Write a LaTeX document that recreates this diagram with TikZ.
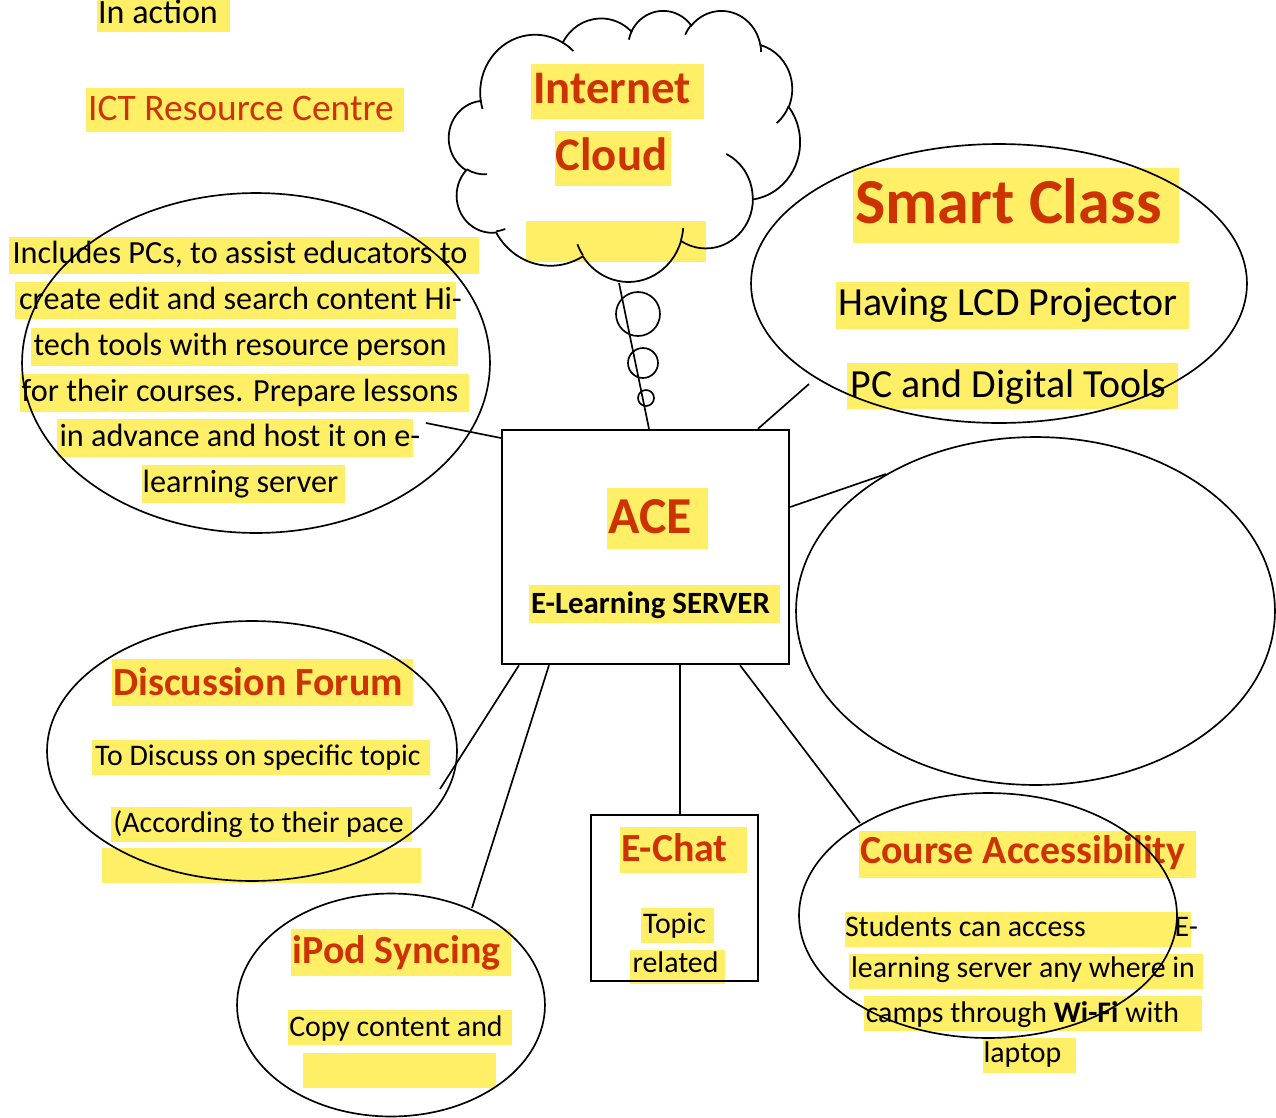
\documentclass[tikz,border=0pt]{standalone}
\usepackage{fontspec}
\setmainfont{Carlito}
\usetikzlibrary{shapes.geometric}
\definecolor{hl}{RGB}{255,239,102}
\definecolor{redt}{RGB}{204,51,0}
\def\CX{449}\def\CY{10}\def\CW{351}\def\CH{271}
\newcommand\cloudarc[5]{%
  \pgfmathsetmacro\crx{#2/432*\CW}%
  \pgfmathsetmacro\cry{#3/432*\CH}%
  \pgfmathsetmacro\cts{atan2(#2*sin(#4),#3*cos(#4))}%
  \pgfmathsetmacro\cte{atan2(#2*sin(#4+#5),#3*cos(#4+#5))}%
  \pgfmathsetmacro\cd{mod(\cte-\cts+720,360)}%
  \expandafter\let\csname crx#1\endcsname\crx
  \expandafter\let\csname cry#1\endcsname\cry
  \expandafter\let\csname cts#1\endcsname\cts
  \expandafter\let\csname cd#1\endcsname\cd}
\newcommand\cloudhook[6]{%
  \cloudarc{Z}{#3}{#4}{#5}{#6}%
  \draw[cloudline] ({\CX+#1/432*\CW},{\CY+#2/432*\CH})
    arc[start angle=\ctsZ, delta angle=\cdZ, x radius=\crxZ, y radius=\cryZ];}
\begin{document}
\begin{tikzpicture}[x=0.02cm,y=-0.02cm,
  cloudline/.style={draw=black, line width=1pt},
  oval/.style={ellipse, draw=black, line width=0.95pt, inner sep=0pt},
  conn/.style={draw=black, line width=0.95pt},
  bubble/.style={circle, draw=black, line width=0.95pt, inner sep=0pt},
  txt/.style={anchor=base, inner sep=0pt, text=black},
  rtxt/.style={anchor=base, inner sep=0pt, text=redt},
  fIn/.style={font=\fontsize{19.4pt}{23pt}\selectfont},
  fICT/.style={font=\fontsize{21.3pt}{25pt}\selectfont},
  fCloud/.style={font=\fontsize{26.6pt}{31pt}\selectfont\bfseries},
  fLeft/.style={font=\fontsize{18.35pt}{22pt}\selectfont},
  fSmartT/.style={font=\fontsize{36.5pt}{42pt}\selectfont\bfseries},
  fSmartB/.style={font=\fontsize{22.7pt}{27pt}\selectfont},
  fACE/.style={font=\fontsize{29.5pt}{35pt}\selectfont\bfseries},
  fServer/.style={font=\fontsize{17.6pt}{21pt}\selectfont\bfseries},
  fTitle/.style={font=\fontsize{22.7pt}{27pt}\selectfont\bfseries},
  fBody/.style={font=\fontsize{17pt}{20pt}\selectfont}]
\useasboundingbox (0,0) rectangle (1276,1117);

% ---------- highlights ----------
\fill[hl] (97,0) rectangle (230,32);
\fill[hl] (86,88) rectangle (404,132);
\fill[hl] (531,64) rectangle (704,119);
\fill[hl] (555,131) rectangle (671,186);
\fill[hl] (526,221) rectangle (706,262);
\fill[hl] (9,237) rectangle (479,274);
\fill[hl] (15,282) rectangle (456,319);
\fill[hl] (31,328) rectangle (458,366);
\fill[hl] (20,374) rectangle (469,412);
\fill[hl] (57,419) rectangle (413,457);
\fill[hl] (142,465) rectangle (345,503);
\fill[hl] (853,168) rectangle (1179,243);
\fill[hl] (836,282) rectangle (1189,329);
\fill[hl] (847,363) rectangle (1178,409);
\fill[hl] (607,488) rectangle (708,549);
\fill[hl] (529,585) rectangle (780,623);
\fill[hl] (112,659) rectangle (413,706);
\fill[hl] (92,740) rectangle (430,775);
\fill[hl] (111,807) rectangle (412,842);
\fill[hl] (102,848) rectangle (421,883);
\fill[hl] (291,929) rectangle (511,976);
\fill[hl] (288,1010) rectangle (512,1045);
\fill[hl] (303,1053) rectangle (496,1088);
\fill[hl] (620,827) rectangle (747,873);
\fill[hl] (641,908) rectangle (714,943);
\fill[hl] (630,950) rectangle (725,984);
\fill[hl] (859,831) rectangle (1196,878);
\fill[hl] (845,912) rectangle (1191,947);
\fill[hl] (849,954) rectangle (1203,989);
\fill[hl] (864,996) rectangle (1202,1031);
\fill[hl] (983,1038) rectangle (1076,1073);

% ---------- texts ----------
\node[txt, fIn] (inaction) at (158,23) {In action};
\node[rtxt, fICT] (ict) at (241,120) {ICT Resource Centre};
\node[rtxt, fCloud] (internet) at (612,103) {Internet};
\node[rtxt, fCloud] (cloudt) at (611.5,170) {Cloud};

\node[txt, fLeft] (l1) at (240,263) {Includes PCs, to assist educators to};
\node[txt, fLeft] (l2) at (240.5,309) {create edit and search content Hi-};
\node[txt, fLeft] (l3) at (240,355) {tech tools with resource person};
\node[txt, fLeft] (l4) at (240,401) {for their courses. Prepare lessons};
\node[txt, fLeft] (l5) at (240,446.5) {in advance and host it on e-};
\node[txt, fLeft] (l6) at (240.5,492) {learning server};

\node[rtxt, fSmartT] (smartt) at (1008.5,223) {Smart Class};
\node[txt, fSmartB] (smart1) at (1008,315) {Having LCD Projector};
\node[txt, fSmartB] (smart2) at (1008.5,397) {PC and Digital Tools};

\node[rtxt, fACE] (acet) at (650,533) {ACE};
\node[txt, fServer] (server) at (650.5,613) {E-Learning SERVER};

\node[rtxt, fTitle] (disct) at (258,695) {Discussion Forum};
\node[txt, fBody] (disc1) at (258,765) {To Discuss on specific topic};
\node[txt, fBody] (disc2) at (258.5,832) {(According to their pace};

\node[rtxt, fTitle] (ipodt) at (396.5,963) {iPod Syncing};
\node[txt, fBody] (ipod1) at (396,1036) {Copy content and};

\node[rtxt, fTitle] (chatt) at (674.5,861) {E-Chat};
\node[txt, fBody] (chat1) at (674.5,933) {Topic};
\begin{scope}
\clip (591,940) rectangle (758,974);
\node[txt, fBody] (chat2) at (675.5,972) {related};
\end{scope}

\node[rtxt, fTitle] (courset) at (1023,863) {Course Accessibility};
\node[txt, fBody] (course1) at (1021.5,936) {\makebox[7.06cm]{Students can access\hfill E-}};
\node[txt, fBody] (course2) at (1023,977) {learning server any where in};
\node[txt, fBody] (course3) at (1022.5,1022) {camps through \textbf{Wi-Fi} with};
\node[txt, fBody] (course4) at (1022.5,1062) {laptop};

% ---------- shapes ----------
\node[oval, minimum width=9.36cm, minimum height=6.8cm] (ictoval) at (256,363) {};
\node[oval, minimum width=9.92cm, minimum height=5.58cm] (smart) at (999,283.5) {};
\node[oval, minimum width=9.58cm, minimum height=6.96cm] (blank) at (1035.5,611) {};
\node[oval, minimum width=8.2cm, minimum height=5.2cm] (disc) at (252,751) {};
\node[oval, minimum width=6.16cm, minimum height=4.46cm] (ipod) at (391,1005) {};
\node[oval, minimum width=7.56cm, minimum height=4.9cm] (course) at (988,915.5) {};
\node[draw=black, line width=1.4pt, minimum width=5.74cm, minimum height=4.68cm, inner sep=0pt] (ace) at (645.5,547) {};
\node[draw=black, line width=1.1pt, minimum width=3.34cm, minimum height=3.32cm, inner sep=0pt] (echat) at (674.5,898) {};

% ---------- cloud ----------
\cloudarc{A}{67.53}{91.90}{-190.487}{123.781}
\cloudarc{B}{53.33}{72.67}{-144.102}{89.945}
\cloudarc{C}{43.65}{59.45}{-145.808}{99.723}
\cloudarc{D}{48.57}{65.95}{-130.986}{117.242}
\cloudarc{E}{53.33}{72.73}{-78.709}{109.027}
\cloudarc{F}{67.75}{92.20}{-46.267}{130.269}
\cloudarc{G}{57.85}{78.67}{0.625}{114.033}
\cloudarc{H}{67.52}{92.15}{22.452}{115.173}
\cloudarc{I}{77.20}{105.43}{66.243}{75.711}
\cloudarc{J}{43.60}{59.18}{-274.942}{146.736}
\cloudarc{K}{43.45}{59.45}{-246.829}{152.519}
\draw[cloudline] ({\CX+39.00/432*\CW},{\CY+143.70/432*\CH})
  arc[start angle=\ctsA, delta angle=\cdA, x radius=\crxA, y radius=\cryA]
  arc[start angle=\ctsB, delta angle=\cdB, x radius=\crxB, y radius=\cryB]
  arc[start angle=\ctsC, delta angle=\cdC, x radius=\crxC, y radius=\cryC]
  arc[start angle=\ctsD, delta angle=\cdD, x radius=\crxD, y radius=\cryD]
  arc[start angle=\ctsE, delta angle=\cdE, x radius=\crxE, y radius=\cryE]
  arc[start angle=\ctsF, delta angle=\cdF, x radius=\crxF, y radius=\cryF]
  arc[start angle=\ctsG, delta angle=\cdG, x radius=\crxG, y radius=\cryG]
  arc[start angle=\ctsH, delta angle=\cdH, x radius=\crxH, y radius=\cryH]
  arc[start angle=\ctsI, delta angle=\cdI, x radius=\crxI, y radius=\cryI]
  arc[start angle=\ctsJ, delta angle=\cdJ, x radius=\crxJ, y radius=\cryJ]
  arc[start angle=\ctsK, delta angle=\cdK, x radius=\crxK, y radius=\cryK]
  -- cycle;
\cloudhook{46.93}{261.77}{43.45}{59.45}{86.742}{26.430}
\cloudhook{69.28}{348.99}{43.60}{59.18}{73.610}{11.447}
\cloudhook{164.78}{390.90}{67.52}{92.15}{137.624}{14.081}
\cloudhook{288.27}{347.51}{67.52}{92.15}{6.453}{15.998}
\cloudhook{341.29}{229.54}{57.85}{78.67}{-70.292}{70.917}
\cloudhook{417.98}{153.54}{53.33}{72.73}{30.318}{27.752}
\cloudhook{383.24}{54.26}{48.57}{65.95}{-13.744}{14.859}
\cloudhook{290.78}{39.52}{48.57}{65.95}{-149.181}{18.195}
\cloudhook{221.41}{47.20}{43.65}{59.45}{-163.494}{17.686}
\cloudhook{140.00}{51.92}{67.53}{91.90}{-66.707}{12.319}
\cloudhook{41.27}{157.89}{67.53}{91.90}{157.654}{11.858}

\node[bubble, minimum size=0.88cm] (b1) at (638,314) {};
\node[bubble, minimum size=0.6cm] (b2) at (643,363) {};
\node[bubble, minimum size=0.32cm] (b3) at (646,398) {};

% ---------- connectors ----------
\coordinate (tail) at (619,283);
\coordinate (smartend) at (809,384);
\coordinate (leftend) at (426,423);
\coordinate (blankend) at (886,474);
\coordinate (discend) at (440,789);
\coordinate (ipodend) at (472,908);
\coordinate (courseend) at (860,823);
\draw[conn] (tail) -- (ace.north -| 649,0);
\draw[conn] (ace.north -| 758,0) -- (smartend);
\draw[conn] (ace.west |- 0,438) -- (leftend);
\draw[conn] (ace.east |- 0,507) -- (blankend);
\draw[conn] (ace.south -| 519,0) -- (discend);
\draw[conn] (ace.south -| 549,0) -- (ipodend);
\draw[conn] (ace.south -| 680,0) -- (echat.north -| 680,0);
\draw[conn] (ace.south -| 740,0) -- (courseend);
\end{tikzpicture}
\end{document}
